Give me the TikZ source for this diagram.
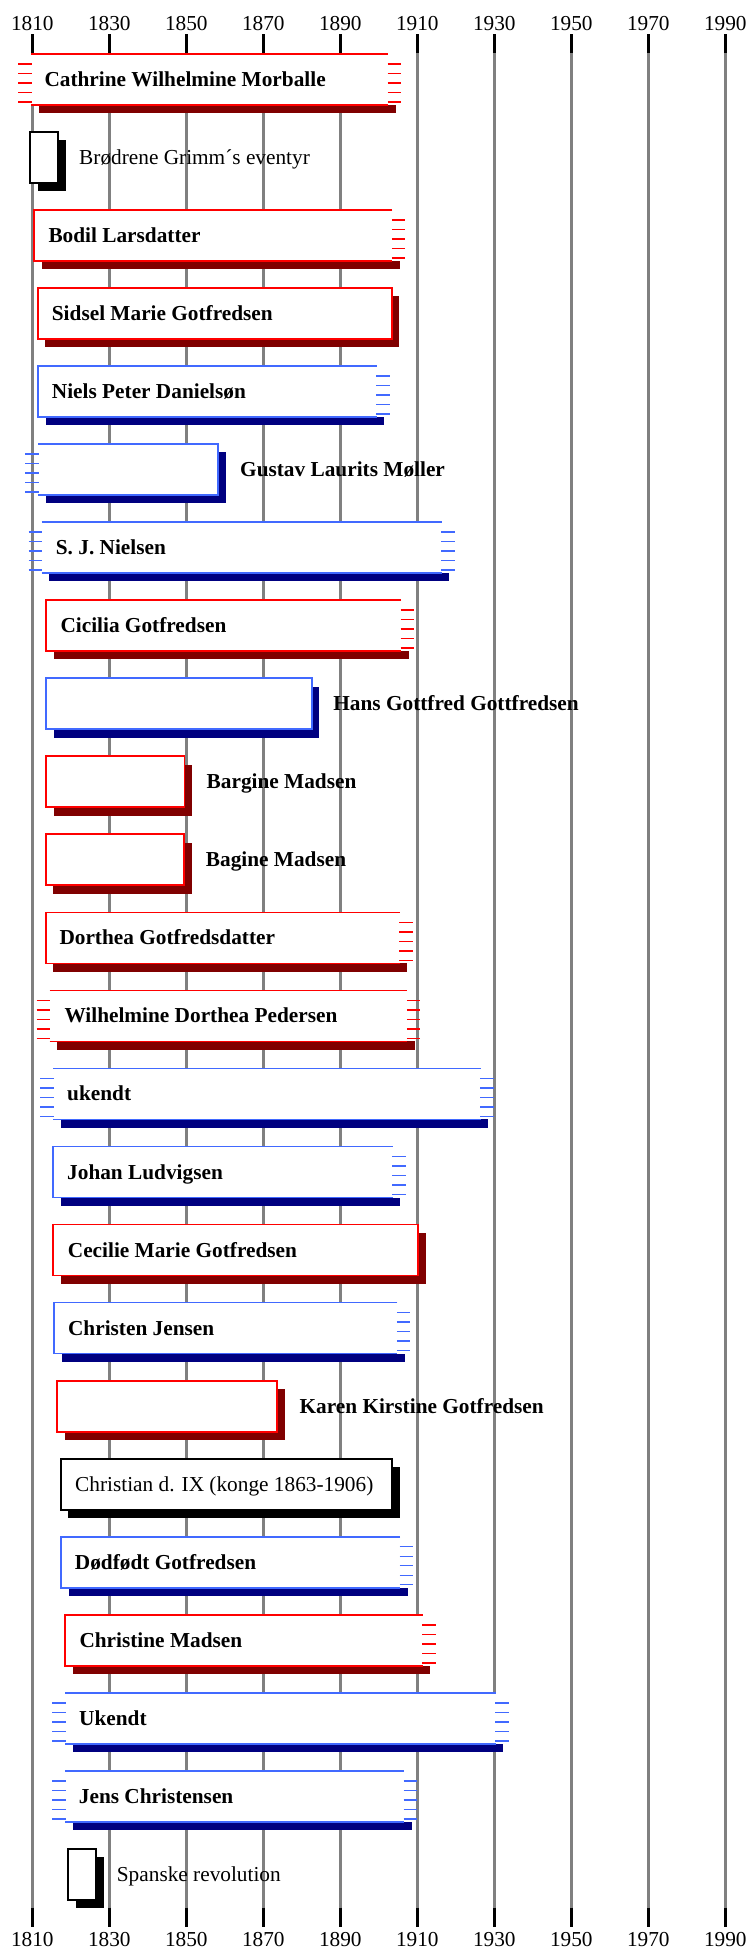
\documentclass[tikz,border=0pt]{standalone}
\usepackage{fontspec}
\setmainfont{Liberation Serif}
\definecolor{femline}{HTML}{FF0000}
\definecolor{femshadow}{HTML}{800000}
\definecolor{malline}{HTML}{4169FF}
\definecolor{malshadow}{HTML}{000080}
\definecolor{evtline}{HTML}{000000}
\definecolor{evtshadow}{HTML}{000000}
\definecolor{gridgray}{HTML}{808080}
\tikzset{
  boxline/.style={line width=1.7pt},
  dashline/.style={line width=1.4pt},
  gridline/.style={gridgray,line width=3pt},
  tickline/.style={black,line width=3pt},
  yearlabel/.style={inner sep=0pt,anchor=base,font=\fontsize{21.3}{25}\selectfont},
  bname/.style={inner sep=0pt,anchor=base west,font=\fontsize{21.3}{25}\selectfont\bfseries},
  ename/.style={inner sep=0pt,anchor=base west,font=\fontsize{21.3}{25}\selectfont},
}
% #1 centre y, #2 left x, #3 right x, #4 left dashed (1/0), #5 right dashed (1/0), #6 palette
\newcommand{\tlrow}[6]{%
  \ifnum#5=1
    \fill[#6shadow] ({#2+7.5},{#1+25.5}) rectangle ({#3+7.5},{#1+33.8});
  \else
    \fill[#6shadow] ({#2+7.5},{#1-17.2}) rectangle ({#3+7.5},{#1+33.8});
  \fi
  \fill[white] (#2,{#1-25.5}) rectangle (#3,{#1+25.5});
  \ifcase\numexpr#4*2+#5\relax
    \draw[boxline,#6line] (#2,{#1-25.5}) rectangle (#3,{#1+25.5});
  \or
    \draw[boxline,#6line] (#3,{#1-25.5}) -- (#2,{#1-25.5}) -- (#2,{#1+25.5}) -- (#3,{#1+25.5});
  \or
    \draw[boxline,#6line] (#2,{#1-25.5}) -- (#3,{#1-25.5}) -- (#3,{#1+25.5}) -- (#2,{#1+25.5});
  \else
    \draw[boxline,#6line] (#2,{#1-25.5}) -- (#3,{#1-25.5});
    \draw[boxline,#6line] (#2,{#1+25.5}) -- (#3,{#1+25.5});
  \fi
  \ifnum#4=1
    \foreach \k in {0,...,4}{\draw[dashline,#6line] ({#2-13},{#1-15.5+9.5*\k}) -- ({#2+0.5},{#1-15.5+9.5*\k});}
  \fi
  \ifnum#5=1
    \foreach \k in {0,...,4}{\draw[dashline,#6line] ({#3-0.5},{#1-15.5+9.5*\k}) -- ({#3+13},{#1-15.5+9.5*\k});}
  \fi
}
\begin{document}
\begin{tikzpicture}[x=1pt,y=-1pt]
\useasboundingbox (0,0) rectangle (748,1949);
% grid and year labels
\foreach \yr [count=\i] in {1810,1830,...,1990}{
  \pgfmathsetmacro\gx{32.3+3.85*(\yr-1810)}
  \draw[gridline] (\gx,52) -- (\gx,1908);
  \draw[tickline] (\gx,34) -- (\gx,52.5);
  \draw[tickline] (\gx,1907.5) -- (\gx,1927);
  \node[yearlabel] (top\i) at (\gx,30) {\yr};
  \node[yearlabel] (bot\i) at (\gx,1946.5) {\yr};
}
% rows
\tlrow{79.3}{31}{388}{1}{1}{fem}
\node[bname] (n1) at (44.3,86.3) {Cathrine Wilhelmine Morballe};
\tlrow{157.35}{30.3}{58.3}{0}{0}{evt}
\node[ename] (n2) at (79,164.35) {Brødrene Grimm´s eventyr};
\tlrow{235.4}{34.3}{392.3}{0}{1}{fem}
\node[bname] (n3) at (48.3,242.4) {Bodil Larsdatter};
\tlrow{313.45}{37.7}{391.7}{0}{0}{fem}
\node[bname] (n4) at (51.7,320.45) {Sidsel Marie Gotfredsen};
\tlrow{391.5}{38.3}{376.7}{0}{1}{mal}
\node[bname] (n5) at (51.7,398.5) {Niels Peter Danielsøn};
\tlrow{469.55}{38.3}{218.3}{1}{0}{mal}
\node[bname] (n6) at (240,476.55) {Gustav Laurits Møller};
\tlrow{547.6}{41.7}{441.7}{1}{1}{mal}
\node[bname] (n7) at (55.7,554.6) {S. J. Nielsen};
\tlrow{625.65}{46.1}{401.2}{0}{1}{fem}
\node[bname] (n8) at (60.3,632.65) {Cicilia Gotfredsen};
\tlrow{703.7}{46.1}{311.7}{0}{0}{mal}
\node[bname] (n9) at (333.2,710.7) {Hans Gottfred Gottfredsen};
\tlrow{781.75}{46.1}{184.6}{0}{0}{fem}
\node[bname] (n10) at (206.5,788.75) {Bargine Madsen};
\tlrow{859.8}{45.7}{184}{0}{0}{fem}
\node[bname] (n11) at (205.7,866.8) {Bagine Madsen};
\tlrow{937.85}{45.7}{399.7}{0}{1}{fem}
\node[bname] (n12) at (59.3,944.85) {Dorthea Gotfredsdatter};
\tlrow{1015.9}{49.7}{407.3}{1}{1}{fem}
\node[bname] (n13) at (64.3,1022.9) {Wilhelmine Dorthea Pedersen};
\tlrow{1093.95}{53.3}{480.7}{1}{1}{mal}
\node[bname] (n14) at (67,1100.95) {ukendt};
\tlrow{1172}{53.3}{392.7}{0}{1}{mal}
\node[bname] (n15) at (67,1179) {Johan Ludvigsen};
\tlrow{1250.05}{53.3}{418.3}{0}{0}{fem}
\node[bname] (n16) at (67.7,1257.05) {Cecilie Marie Gotfredsen};
\tlrow{1328.1}{54.1}{397.3}{0}{1}{mal}
\node[bname] (n17) at (67.9,1335.1) {Christen Jensen};
\tlrow{1406.15}{57.2}{277.2}{0}{0}{fem}
\node[bname] (n18) at (299.4,1413.15) {Karen Kirstine Gotfredsen};
\tlrow{1484.2}{60.8}{392}{0}{0}{evt}
\node[ename] (n19) at (75,1491.2) {Christian d. IX (konge 1863-1906)};
\tlrow{1562.25}{61}{400}{0}{1}{mal}
\node[bname] (n20) at (74.7,1569.25) {Dødfødt Gotfredsen};
\tlrow{1640.3}{65}{422.7}{0}{1}{fem}
\node[bname] (n21) at (79.3,1647.3) {Christine Madsen};
\tlrow{1718.35}{65}{495.7}{1}{1}{mal}
\node[bname] (n22) at (79,1725.35) {Ukendt};
\tlrow{1796.4}{65}{404}{1}{1}{mal}
\node[bname] (n23) at (78.7,1803.4) {Jens Christensen};
\tlrow{1874.45}{68.3}{96.3}{0}{0}{evt}
\node[ename] (n24) at (116.7,1881.45) {Spanske revolution};
\end{tikzpicture}
\end{document}
